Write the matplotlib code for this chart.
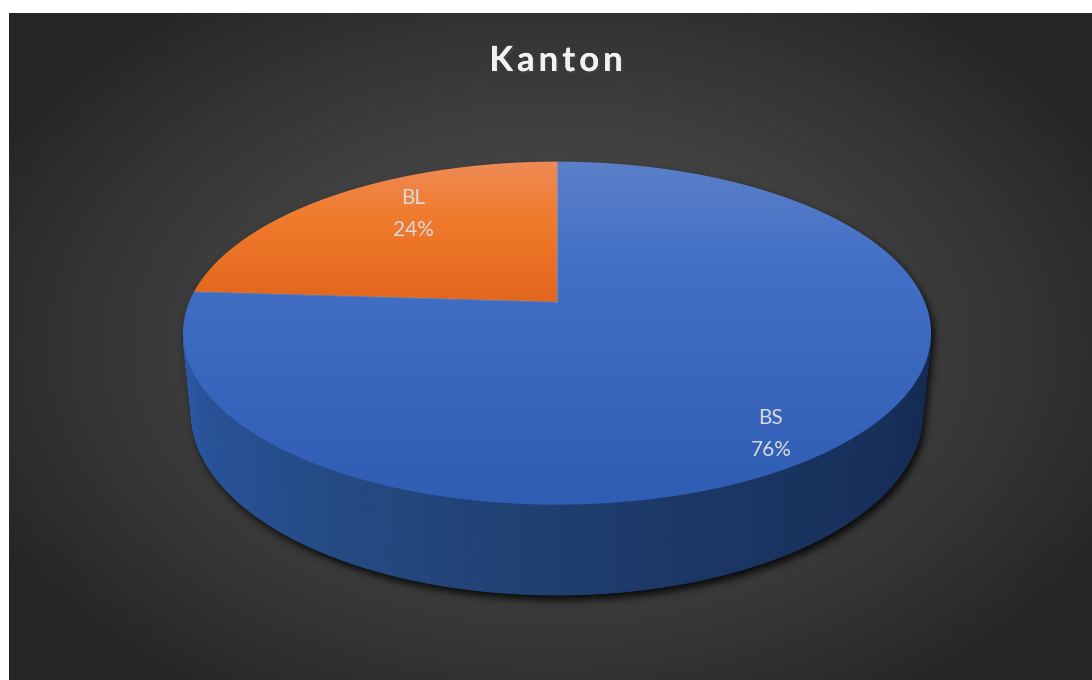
"""3D-looking pie chart: share of entries per Kanton"""
import numpy as np
import matplotlib
matplotlib.use('Agg')
import matplotlib.pyplot as plt
import matplotlib.patheffects as pe
from matplotlib.colors import LinearSegmentedColormap
from matplotlib.patches import Polygon
from matplotlib.path import Path

TITLE = 'Kanton'
LABELS = ['BL', 'BS']
SHARES = [24, 76]

# top-face gradients (top -> bottom of each slice), and the side wall
TOP_CMAPS = [
    LinearSegmentedColormap.from_list(
        'bl', [(0, '#ee8b57'), (0.4, '#f07b2d'), (1, '#e2661c')]),
    LinearSegmentedColormap.from_list(
        'bs', [(0, '#5b80c9'), (0.3, '#4370c6'), (1, '#2e5db3')]),
]
WALL_CMAP = LinearSegmentedColormap.from_list(
    'wall', [(0, '#2c59a6'), (0.35, '#24487f'), (0.6, '#1c3866'),
             (1, '#142a52')])
LABEL_XY = [(413, 214), (771, 434)]

# simple perspective camera, in pixel space
CX, CY = 557, 302
FOCAL = 1806
DIST = 4.91
TILT = np.arcsin(0.451)
THICK = 0.245
W, H = 1092, 680


def project(x, y, z):
    """world (x right, y away, z up) -> pixel coords"""
    up = y * np.sin(TILT) + z * np.cos(TILT)
    depth = DIST + y * np.cos(TILT) - z * np.sin(TILT)
    return CX + FOCAL * x / depth, CY - FOCAL * up / depth


def arc(a0, a1, z, n=200):
    t = np.radians(np.linspace(a0, a1, n))
    u, v = project(np.cos(t), np.sin(t), z)
    return np.column_stack([u, v])


def blur(img, sigma):
    k = np.arange(-3 * sigma, 3 * sigma + 1)
    k = np.exp(-k ** 2 / (2.0 * sigma ** 2))
    k /= k.sum()
    img = np.apply_along_axis(lambda r: np.convolve(r, k, 'same'), 1, img)
    return np.apply_along_axis(lambda c: np.convolve(c, k, 'same'), 0, img)


def main():
    """Go Main Go"""
    fig = plt.figure(figsize=(W / 100, H / 100), dpi=100, facecolor='white')
    ax = fig.add_axes([0, 0, 1, 1])
    ax.set_xlim(0, W)
    ax.set_ylim(H, 0)
    ax.axis('off')

    # dark radial background panel
    yy, xx = np.mgrid[13:H, 9:W] + 0.5
    r = np.clip(np.hypot((xx - 552) / 640, (yy - 345) / 430), 0, 1)
    level = (0x50 - (0x50 - 0x25) * r ** 1.4) / 255
    ax.imshow(np.dstack([level] * 3), extent=(9, W, H, 13), aspect='auto',
              zorder=0, interpolation='bilinear')

    # visible part of the cylinder wall
    lim = np.degrees(np.arcsin(1 / (DIST * np.cos(TILT))))
    w0, w1 = 180 + lim, 360 - lim

    # drop shadow of the whole solid
    outline = np.vstack([arc(w1 - 360, w0, 0, 400), arc(w0, w1, -THICK, 300)])
    gy, gx = np.mgrid[0:H, 0:W] + 0.5
    mask = Path(outline + [3, 5]).contains_points(
        np.column_stack([gx.ravel(), gy.ravel()])).reshape(H, W)
    shade = blur(mask.astype(float), 4)
    rgba = np.zeros((H, W, 4))
    rgba[..., 3] = 0.85 * shade
    ax.imshow(rgba, extent=(0, W, H, 0), aspect='auto', zorder=1)

    total = float(sum(SHARES))
    starts = 90 + 360 * np.concatenate([[0], np.cumsum(SHARES)[:-1]]) / total
    spans = 360 * np.array(SHARES) / total

    # side walls
    for a0, span in zip(starts, spans):
        t = np.linspace(a0, a0 + span, 400)
        t = t[((t % 360) > w0) & ((t % 360) < w1)]
        for t0, t1 in zip(t[:-1], t[1:]):
            top = arc(t0, t1, 0, 2)
            bot = arc(t1, t0, -THICK, 2)
            c = WALL_CMAP((t0 % 360 - w0) / (w1 - w0))
            ax.add_patch(Polygon(np.vstack([top, bot]), closed=True,
                                 facecolor=c, edgecolor=c, lw=0.6, zorder=2))

    # top faces with vertical gradient
    apex = np.array([project(0, 0, 0)])
    for cmap, a0, span in zip(TOP_CMAPS, starts, spans):
        pts = np.vstack([apex, arc(a0, a0 + span, 0, 300)])
        patch = Polygon(pts, closed=True, facecolor='none', edgecolor='none',
                        zorder=3)
        ax.add_patch(patch)
        grad = cmap(np.linspace(0, 1, 256))[:, None, :3]
        im = ax.imshow(grad, extent=(pts[:, 0].min() - 2, pts[:, 0].max() + 2,
                                     pts[:, 1].max() + 1, pts[:, 1].min() - 1),
                       aspect='auto', zorder=3, interpolation='bilinear')
        im.set_clip_path(patch)

    # thin seams between slices
    for a in starts:
        u, v = project(np.cos(np.radians(a)), np.sin(np.radians(a)), 0)
        ax.plot([apex[0, 0], u], [apex[0, 1], v], color='#b0b8c8', lw=0.7,
                alpha=0.4, zorder=4)

    for (x, y), lab, val in zip(LABEL_XY, LABELS, SHARES):
        for dy, s in ((-15.5, lab), (15.5, f"{val / total:.0%}")):
            ax.text(x, y + dy, s, ha='center', va='center', fontsize=15,
                    family='Lato', color='#d9d9d9', zorder=5)

    # title with letter spacing, one glyph at a time
    shadow = [pe.withSimplePatchShadow(offset=(1.5, -1.5), alpha=0.6),
              pe.Normal()]
    chars = [ax.text(0, 61, ch, ha='left', va='center', fontsize=25,
                     fontweight='bold', family='Lato', color='#f2f2f2',
                     zorder=5, path_effects=shadow) for ch in TITLE]
    renderer = fig.canvas.get_renderer()
    widths = [t.get_window_extent(renderer).width for t in chars]
    gap = 4.0
    x = 556 - (sum(widths) + gap * (len(widths) - 1)) / 2
    for t, w in zip(chars, widths):
        t.set_x(x)
        x += w + gap

    fig.savefig('out.png', dpi=100, facecolor='white')


if __name__ == '__main__':
    main()
